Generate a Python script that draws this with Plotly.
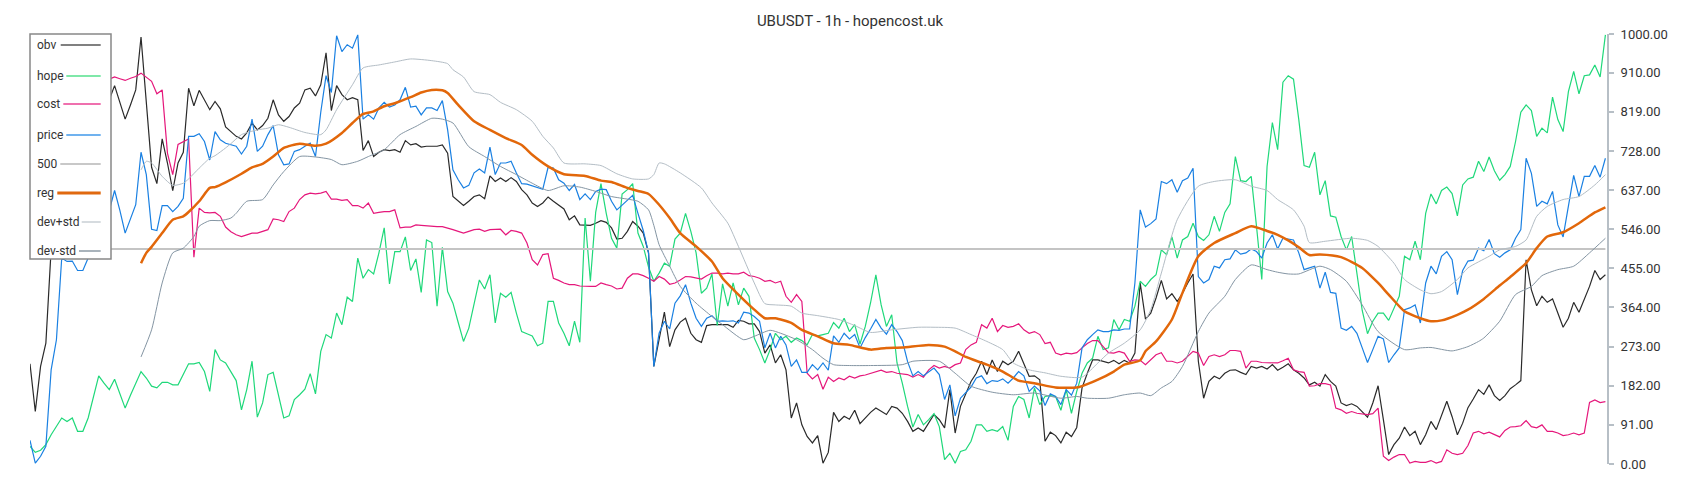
import plotly.graph_objects as go

N = 299
idx = list(range(N))

obv = [233, 122, 227, 281, 500, 720, 820, 860, 840, 870,
       890, 860, 840, 860, 830, 847, 880, 840, 802, 835,
       870, 993, 845, 690, 652, 756, 700, 636, 700, 725,
       874, 833, 869, 847, 824, 843, 826, 784, 773, 762,
       756, 770, 793, 777, 787, 804, 847, 812, 797, 808,
       828, 839, 870, 874, 856, 882, 956, 822, 880, 859,
       847, 852, 847, 729, 752, 715, 725, 731, 729, 731,
       725, 752, 742, 745, 737, 739, 739, 739, 742, 723,
       622, 611, 601, 611, 622, 626, 617, 670, 657, 665,
       657, 666, 657, 638, 626, 607, 599, 607, 621, 611,
       601, 593, 568, 577, 556, 555, 555, 560, 566, 562,
       549, 523, 525, 541, 564, 553, 537, 491, 227, 290,
       353, 273, 312, 330, 339, 304, 289, 283, 322, 324,
       324, 324, 324, 318, 334, 332, 326, 326, 308, 258,
       277, 235, 254, 219, 107, 142, 91, 64, 49, 66,
       2, 27, 120, 99, 111, 104, 125, 94, 107, 120,
       130, 122, 115, 134, 130, 118, 99, 76, 84, 76,
       95, 115, 103, 84, 173, 72, 134, 165, 192, 211,
       239, 208, 242, 215, 239, 231, 239, 262, 231, 204,
       205, 196, 53, 74, 66, 49, 74, 64, 85, 177,
       211, 242, 242, 239, 235, 241, 233, 241, 235, 258,
       421, 337, 351, 386, 427, 384, 396, 378, 397, 421,
       442, 239, 153, 192, 204, 198, 211, 218, 219, 213,
       208, 227, 223, 227, 221, 231, 218, 225, 233, 219,
       211, 200, 184, 190, 181, 208, 192, 181, 142, 136,
       140, 134, 122, 109, 142, 182, 103, 22, 45, 60,
       86, 66, 76, 45, 68, 99, 80, 115, 146, 110,
       68, 95, 131, 151, 173, 162, 184, 159, 148, 159,
       175, 184, 194, 475, 405, 368, 390, 376, 384, 351,
       318, 339, 376, 353, 382, 413, 450, 429, 440]

hope = [41, 27, 32, 45, 68, 87, 107, 99, 107, 76,
        76, 107, 155, 205, 188, 173, 197, 165, 130, 160,
        188, 215, 200, 181, 177, 190, 190, 184, 184, 208,
        233, 233, 236, 215, 169, 266, 242, 235, 215, 194,
        126, 173, 239, 109, 142, 208, 213, 157, 107, 112,
        150, 161, 174, 210, 163, 262, 301, 293, 351, 324,
        388, 378, 479, 432, 452, 442, 491, 549, 419, 494,
        494, 528, 450, 477, 399, 521, 515, 367, 504, 401,
        374, 329, 285, 316, 370, 428, 407, 440, 328, 397,
        388, 399, 351, 308, 303, 298, 275, 281, 378, 378,
        328, 304, 275, 332, 283, 572, 425, 585, 652, 583,
        525, 502, 628, 638, 652, 537, 506, 458, 425, 444,
        467, 460, 523, 537, 583, 541, 491, 397, 409, 442,
        322, 419, 367, 421, 370, 409, 390, 293, 266, 235,
        266, 304, 289, 297, 283, 293, 287, 277, 301, 298,
        301, 304, 329, 316, 339, 308, 324, 279, 320, 375,
        440, 370, 320, 347, 235, 188, 134, 86, 115, 91,
        103, 117, 87, 10, 25, 2, 29, 33, 53, 91,
        91, 76, 80, 76, 87, 55, 134, 157, 150, 107,
        177, 138, 157, 159, 157, 125, 173, 118, 169, 211,
        235, 246, 297, 266, 270, 336, 312, 336, 332, 367,
        425, 413, 429, 440, 498, 487, 528, 479, 521, 529,
        560, 529, 520, 533, 576, 541, 585, 605, 715, 659,
        657, 669, 553, 429, 692, 794, 731, 888, 903, 895,
        801, 694, 690, 725, 626, 659, 577, 574, 529, 498,
        529, 448, 357, 303, 332, 351, 351, 334, 360, 390,
        483, 475, 518, 475, 583, 628, 605, 636, 644, 629,
        577, 649, 663, 667, 704, 680, 714, 682, 660, 673,
        692, 750, 818, 835, 822, 762, 781, 770, 853, 801,
        773, 866, 913, 861, 903, 905, 928, 900, 998]

cost = [900, 905, 895, 885, 890, 895, 905, 910, 900, 895,
        890, 898, 905, 900, 895, 895, 900, 896, 892, 897,
        901, 909, 900, 890, 861, 870, 723, 673, 743, 750,
        756, 481, 595, 585, 584, 585, 576, 551, 540, 533,
        529, 533, 537, 537, 541, 545, 570, 568, 564, 587,
        595, 615, 626, 630, 628, 630, 634, 616, 616, 613,
        615, 601, 601, 595, 607, 583, 585, 587, 587, 591,
        549, 551, 551, 556, 555, 554, 552, 552, 552, 549,
        545, 541, 537, 541, 545, 546, 541, 545, 545, 546,
        533, 543, 541, 537, 514, 475, 463, 487, 489, 432,
        427, 421, 417, 417, 414, 413, 413, 413, 421, 417,
        414, 407, 409, 432, 442, 442, 438, 432, 425, 436,
        430, 418, 421, 428, 436, 435, 432, 430, 438, 444,
        444, 442, 444, 442, 442, 446, 438, 436, 432, 425,
        427, 421, 425, 390, 376, 394, 378, 211, 198, 208,
        174, 202, 192, 200, 196, 204, 200, 205, 207, 211,
        215, 218, 213, 215, 211, 210, 208, 202, 208, 202,
        219, 229, 223, 227, 223, 231, 235, 266, 277, 283,
        324, 316, 339, 308, 322, 318, 320, 326, 312, 304,
        308, 301, 280, 283, 258, 254, 258, 256, 259, 270,
        280, 287, 287, 273, 259, 258, 262, 258, 239, 242,
        241, 231, 242, 254, 259, 239, 239, 235, 239, 250,
        262, 258, 229, 250, 254, 250, 254, 264, 264, 262,
        223, 239, 239, 236, 236, 236, 235, 240, 246, 219,
        215, 213, 181, 182, 187, 187, 184, 130, 126, 118,
        122, 118, 116, 115, 117, 130, 18, 8, 16, 22,
        22, 2, 6, 4, 4, 8, 2, 6, 33, 25,
        22, 25, 43, 72, 76, 70, 74, 68, 63, 78,
        86, 87, 89, 101, 87, 84, 91, 76, 76, 72,
        66, 68, 72, 68, 72, 143, 149, 143, 145]

price = [55, 2, 18, 41, 219, 289, 479, 471, 472, 450,
         450, 479, 540, 600, 620, 590, 636, 590, 537, 570,
         603, 725, 673, 546, 543, 601, 601, 587, 599, 618,
         762, 762, 768, 750, 707, 773, 754, 746, 742, 739,
         721, 739, 802, 727, 739, 766, 787, 719, 696, 698,
         727, 731, 739, 746, 715, 818, 903, 864, 996, 959,
         975, 967, 998, 802, 812, 802, 828, 841, 830, 835,
         847, 876, 830, 832, 812, 828, 828, 822, 845, 777,
         684, 661, 642, 648, 677, 686, 677, 737, 673, 700,
         700, 704, 677, 652, 651, 647, 644, 639, 690, 688,
         661, 653, 636, 650, 615, 628, 615, 634, 639, 638,
         611, 591, 602, 613, 625, 583, 543, 491, 227, 304,
         332, 314, 374, 391, 417, 374, 339, 320, 339, 345,
         332, 333, 332, 333, 328, 353, 351, 343, 332, 270,
         304, 270, 297, 277, 227, 242, 213, 213, 231, 219,
         235, 218, 298, 283, 304, 291, 301, 270, 294, 314,
         336, 316, 302, 324, 308, 287, 238, 205, 215, 205,
         215, 223, 208, 150, 184, 112, 153, 165, 179, 200,
         205, 187, 194, 192, 198, 188, 200, 215, 205, 169,
         181, 170, 136, 163, 157, 138, 173, 160, 188, 270,
         289, 301, 312, 308, 308, 312, 311, 314, 314, 421,
         591, 551, 559, 570, 657, 652, 661, 632, 659, 665,
         688, 436, 421, 429, 460, 456, 475, 477, 498, 488,
         491, 500, 494, 479, 514, 533, 500, 525, 523, 521,
         491, 452, 456, 460, 409, 446, 399, 397, 316, 311,
         320, 304, 270, 236, 266, 297, 291, 236, 254, 270,
         359, 363, 370, 328, 421, 460, 442, 483, 494, 475,
         394, 450, 472, 474, 502, 496, 522, 489, 481, 491,
         498, 525, 545, 711, 676, 599, 611, 605, 634, 556,
         528, 599, 671, 622, 669, 669, 694, 667, 711]

level_500 = [500] * N

reg_x = [21, 22, 23, 25, 27, 29, 30, 32, 34, 35, 37, 40, 42, 44, 46, 48, 51, 54, 56, 59,
         61, 63, 65, 67, 69, 72, 74, 76, 78, 79, 81, 84, 87, 90, 93, 95, 98, 101, 105, 108,
         110, 113, 115, 117, 119, 121, 123, 126, 129, 131, 134, 137, 139, 141, 144, 146, 149, 152, 155, 159,
         162, 165, 170, 173, 175, 177, 181, 184, 187, 190, 194, 198, 199, 202, 205, 207, 210, 211, 213, 216,
         218, 221, 224, 228, 231, 234, 236, 238, 240, 242, 244, 248, 252, 255, 257, 260, 263, 265, 267, 270,
         272, 275, 278, 280, 283, 285, 287, 290, 293, 296, 298]
reg_y = [467, 491, 505, 537, 568, 576, 586, 611, 642, 644, 655, 675, 690, 698, 715, 735, 745, 740, 745, 770,
         793, 814, 820, 832, 839, 853, 864, 870, 869, 863, 835, 797, 777, 758, 742, 719, 692, 674, 670, 659,
         656, 642, 635, 628, 603, 572, 537, 506, 471, 432, 394, 359, 339, 339, 328, 312, 297, 281, 277, 266,
         270, 271, 277, 273, 262, 249, 231, 215, 194, 188, 178, 178, 181, 196, 215, 231, 241, 262, 285, 336,
         398, 483, 514, 537, 553, 542, 533, 520, 504, 486, 487, 481, 456, 421, 394, 355, 339, 332, 334, 347,
         359, 384, 415, 435, 467, 502, 529, 539, 560, 585, 597]

devp_x = [21, 22, 23, 25, 27, 29, 30, 32, 34, 35, 37, 38, 40, 43, 45, 47, 49, 52, 55, 56,
          58, 61, 63, 66, 69, 72, 76, 79, 80, 82, 84, 87, 89, 92, 95, 97, 99, 101, 105, 108,
          111, 114, 117, 118, 119, 120, 123, 127, 129, 132, 134, 137, 139, 141, 144, 146, 149, 153, 156, 159,
          163, 168, 171, 175, 178, 181, 184, 186, 189, 192, 195, 199, 202, 204, 207, 210, 212, 214, 217, 221,
          224, 228, 231, 234, 236, 239, 241, 242, 245, 250, 253, 255, 258, 260, 263, 265, 267, 270, 272, 276,
          278, 281, 283, 285, 287, 290, 293, 296, 298]
devp_y = [684, 704, 700, 669, 648, 653, 663, 688, 711, 717, 735, 745, 766, 777, 781, 789, 783, 771, 766, 777,
          824, 882, 921, 928, 935, 942, 938, 931, 917, 900, 866, 859, 841, 824, 797, 762, 735, 700, 698, 694,
          675, 663, 663, 673, 700, 698, 677, 642, 607, 560, 506, 421, 373, 370, 367, 351, 345, 336, 322, 306,
          312, 318, 318, 316, 301, 285, 266, 235, 219, 212, 204, 202, 235, 258, 281, 312, 359, 444, 568, 646,
          657, 661, 646, 636, 615, 591, 553, 515, 518, 525, 520, 506, 467, 429, 405, 396, 401, 429, 456, 483,
          498, 506, 521, 576, 599, 615, 622, 649, 673]

devm_x = [21, 23, 25, 27, 29, 31, 32, 34, 36, 38, 39, 41, 44, 46, 48, 51, 54, 57, 59, 62,
          64, 67, 70, 73, 76, 78, 80, 83, 86, 89, 92, 95, 98, 101, 104, 107, 110, 113, 115, 117,
          118, 119, 121, 123, 126, 129, 131, 135, 137, 140, 142, 145, 148, 150, 152, 155, 159, 165, 167, 172,
          175, 178, 182, 186, 190, 195, 198, 200, 204, 207, 210, 212, 214, 216, 218, 221, 223, 226, 228, 231,
          234, 236, 238, 240, 244, 246, 249, 252, 255, 260, 263, 265, 269, 272, 274, 275, 278, 281, 284, 286,
          289, 292, 295, 298]
devm_y = [249, 312, 421, 491, 502, 529, 553, 566, 566, 572, 583, 611, 615, 649, 680, 715, 714, 708, 696, 704,
          715, 731, 766, 785, 804, 802, 793, 738, 715, 692, 673, 653, 636, 647, 644, 634, 622, 616, 611, 591,
          555, 510, 460, 413, 374, 343, 324, 289, 297, 311, 304, 289, 266, 246, 231, 229, 229, 231, 239, 239,
          211, 181, 167, 161, 165, 153, 157, 153, 153, 161, 165, 159, 177, 192, 227, 308, 351, 390, 429, 463,
          452, 446, 442, 442, 460, 452, 425, 370, 308, 266, 270, 271, 263, 273, 285, 293, 332, 394, 413, 438,
          452, 460, 491, 525]

y_ticks = [0, 91, 182, 273, 364, 455, 546, 637, 728, 819, 910, 1000]

series_style = [
    ("obv", idx, obv, "#2a2a2a", 1.2, "linear"),
    ("hope", idx, hope, "#1fd87a", 1.2, "linear"),
    ("cost", idx, cost, "#e5177b", 1.2, "linear"),
    ("price", idx, price, "#1a80e2", 1.2, "linear"),
    ("500", idx, level_500, "#c4c4c4", 2, "linear"),
    ("reg", reg_x, reg_y, "#e2670a", 2.5, "spline"),
    ("dev+std", devp_x, devp_y, "#b3bdc5", 1, "spline"),
    ("dev-std", devm_x, devm_y, "#8495a3", 1, "spline"),
]

fig = go.Figure()
for name, xs, ys, col, w, shp in series_style:
    fig.add_trace(go.Scatter(x=xs, y=ys, mode="lines", name=name,
                             line=dict(color=col, width=w, shape=shp, smoothing=0.6) if shp == "spline"
                             else dict(color=col, width=w),
                             showlegend=False, hoverinfo="skip"))

# the page body adds an 8px margin; the figure is placed so the page looks like the reference
OFF = 8
W, H = 1700 - OFF, 500 - OFF
# plot area in page pixels
PL, PR, PT, PB = 30, 1607, 34, 464


def px(x):
    return (x - PL) / (PR - PL)


def py(y):
    return (PB - y) / (PB - PT)


legend_items = [
    ("obv", 45, 60.7, "#808080", 2),
    ("hope", 76, 66.3, "#7fe8a9", 2),
    ("cost", 104, 63.3, "#ef70ae", 2),
    ("price", 135, 66.3, "#70b2ef", 2),
    ("500", 164, 60.3, "#c8c8c8", 2),
    ("reg", 193, 57.3, "#e0690f", 3),
    ("dev+std", 222, 81.7, "#d6dbdf", 2),
    ("dev-std", 251, 79.0, "#a9b3bb", 2),
]

shapes = [dict(type="rect", xref="paper", yref="paper", x0=px(30), x1=px(111), y0=py(259), y1=py(34),
               fillcolor="white", line=dict(color="#888888", width=1.5), layer="above")]
annotations = []
for name, yc, x0, col, w in legend_items:
    shapes.append(dict(type="line", xref="paper", yref="paper", x0=px(x0), x1=px(100.7),
                       y0=py(yc), y1=py(yc), line=dict(color=col, width=w), layer="above"))
    annotations.append(dict(xref="paper", yref="paper", x=px(35), y=py(yc), text=name,
                            showarrow=False, xanchor="left", yanchor="middle",
                            font=dict(family="Roboto", size=12, color="#333333")))

fig.update_layout(
    width=W, height=H,
    margin=dict(l=PL - OFF, r=1700 - PR, t=PT - OFF, b=500 - PB),
    paper_bgcolor="white", plot_bgcolor="white",
    showlegend=False,
    font=dict(family="Roboto", color="#333333"),
    title=dict(text="UBUSDT - 1h - hopencost.uk", x=(850 - OFF) / W, xref="container", xanchor="center",
               y=1 - (20.7 - OFF) / H, yref="container", yanchor="middle",
               font=dict(family="Roboto", size=15, color="#333333")),
    xaxis=dict(range=[0, 298.3], visible=False, fixedrange=True),
    yaxis=dict(side="right", range=[0, 1000], tickvals=y_ticks, tickformat=".2f",
               showgrid=False, zeroline=False, showline=True, linecolor="#b7bfc6", linewidth=2,
               ticks="outside", ticklen=5, tickcolor="#b7bfc6", tickwidth=1.5, ticklabelstandoff=4,
               tickfont=dict(family="Roboto", size=13, color="#333333"), fixedrange=True),
    shapes=shapes,
    annotations=annotations,
)

fig.write_html("out.html")
